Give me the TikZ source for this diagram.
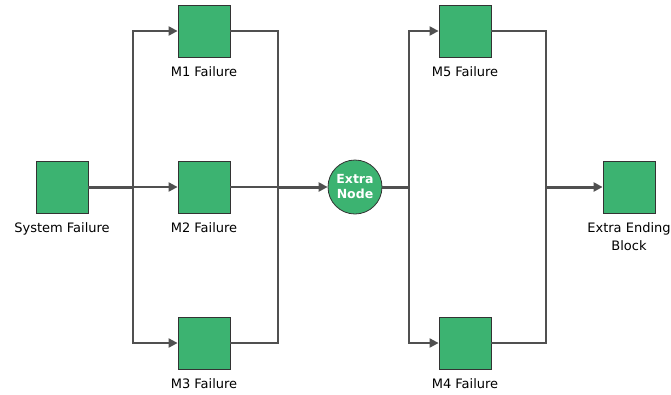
\documentclass[tikz,border=0pt]{standalone}
\usepackage{fontspec}
\setmainfont{DejaVu Sans}
\usepackage{tikz}
\usetikzlibrary{
  positioning,
  arrows.meta
}
\definecolor{blockgreen}{RGB}{60, 179, 113}
\definecolor{wiregray}{RGB}{80, 80, 80}
\tikzset{
  block/.style={
    draw=black!80, line width=0.8pt, fill=blockgreen,
    minimum width=52pt, minimum height=52pt,
    inner sep=0pt
  },
  blocklbl/.style={
    font=\fontsize{13}{18}\selectfont, align=center,
    label distance=6pt
  },
  branch/.style={draw=wiregray, line width=2pt},
  trunk/.style={draw=wiregray, line width=3pt},
  feed/.style={-{Triangle[length=9pt, width=9pt]}}
}

\begin{document}
\begin{tikzpicture}[
  x=1pt, y=-1pt,
  hub/.style={circle, draw=black!80, line width=0.8pt, fill=blockgreen, minimum size=54pt, inner sep=0pt, text=white, font=\fontsize{12.5}{15}\selectfont\bfseries, align=center},
]
\useasboundingbox (0, 0) rectangle (671, 394);

% Bloques
\node[block, label={[blocklbl]below:System Failure}] (sys) at (62, 187) {};
\node[block, label={[blocklbl]below:M1 Failure}] (m1) at (204, 31) {};
\node[block, label={[blocklbl]below:M2 Failure}] (m2) at (204, 187) {};
\node[block, label={[blocklbl]below:M3 Failure}] (m3) at (204, 343) {};
\node[hub] (extra) at (355, 187) {Extra\\Node};
\node[block, label={[blocklbl]below:M5 Failure}] (m5) at (465, 31) {};
\node[block, label={[blocklbl]below:M4 Failure}] (m4) at (465, 343) {};
\node[block, label={[blocklbl]below:{Extra Ending\\Block}}] (endb) at (629, 187) {};

% Puntos de union
\coordinate (s1) at (133, 187);
\coordinate (j1) at (278, 187);
\coordinate (s2) at (409, 187);
\coordinate (j2) at (546, 187);

% Primer tramo en paralelo
\draw[trunk] (sys) -- (s1);
\foreach \m in {m1, m2, m3} {
  \draw[branch, feed] (s1) |- (\m);
  \draw[branch] (\m) -| (j1);
}
\draw[trunk, feed] (j1) -- (extra);

% Segundo tramo en paralelo
\draw[trunk] (extra) -- (s2);
\foreach \m in {m5, m4} {
  \draw[branch, feed] (s2) |- (\m);
  \draw[branch] (\m) -| (j2);
}
\draw[trunk, feed] (j2) -- (endb);

\end{tikzpicture}
\end{document}
